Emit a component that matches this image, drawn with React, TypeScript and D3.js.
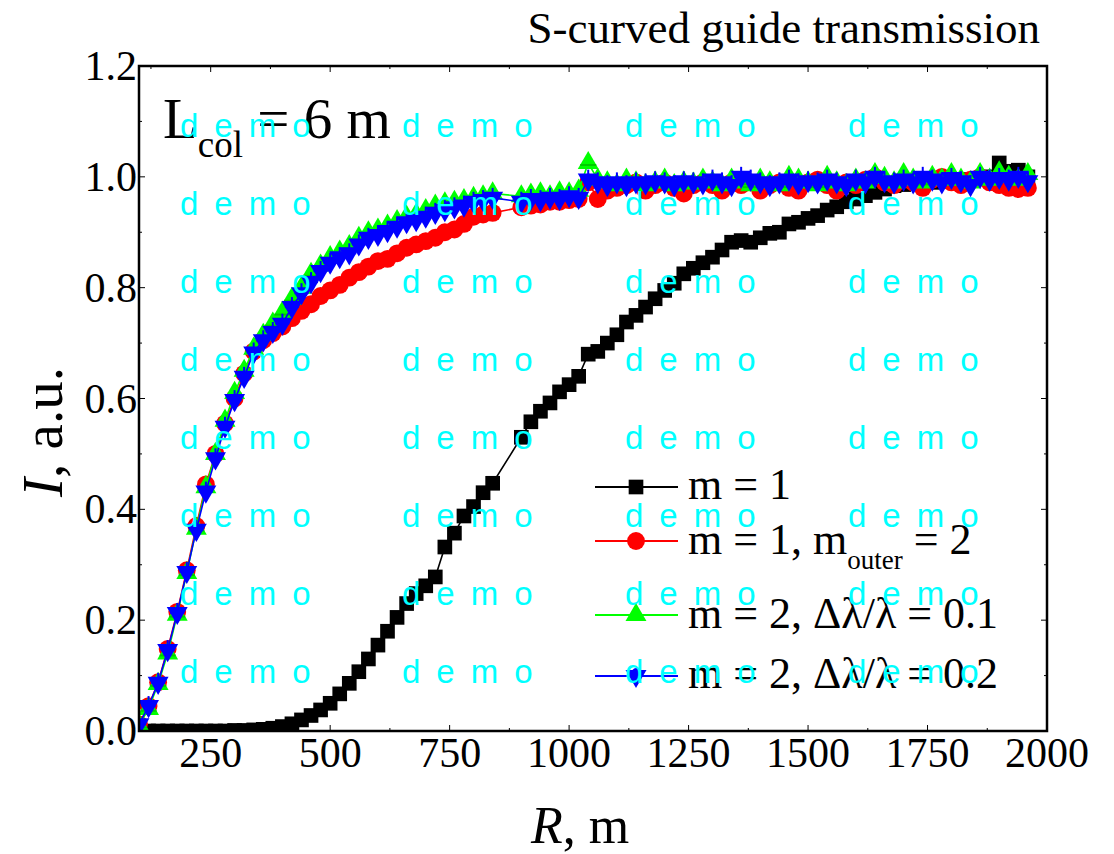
import React from 'react';
import * as d3 from 'd3';

// bend radius R, m (two simulation runs, 860-880 not computed)
const radius = [
  100, 120, 140, 160, 180, 200, 220, 240, 260, 280,
  300, 320, 340, 360, 380, 400, 420, 440, 460, 480,
  500, 520, 540, 560, 580, 600, 620, 640, 660, 680,
  700, 720, 740, 760, 780, 800, 820, 840,
  900, 920, 940, 960, 980,
  1000, 1020, 1040, 1060, 1080, 1100, 1120, 1140, 1160, 1180,
  1200, 1220, 1240, 1260, 1280, 1300, 1320, 1340, 1360, 1380,
  1400, 1420, 1440, 1460, 1480, 1500, 1520, 1540, 1560, 1580,
  1600, 1620, 1640, 1660, 1680, 1700, 1720, 1740, 1760, 1780,
  1800, 1820, 1840, 1860, 1880, 1900, 1920, 1940, 1960,
];

const m1 = [
  0, 0, 0, 0, 0, 0, 0, 0, 0, 0,
  0.001, 0.001, 0.002, 0.003, 0.005, 0.008, 0.013, 0.02, 0.028, 0.038,
  0.05, 0.067, 0.086, 0.107, 0.13, 0.155, 0.18, 0.205, 0.23, 0.248,
  0.262, 0.278, 0.332, 0.357, 0.388, 0.405, 0.43, 0.447,
  0.53, 0.558, 0.577, 0.592, 0.612,
  0.625, 0.64, 0.68, 0.685, 0.7, 0.715, 0.738, 0.75, 0.765, 0.78,
  0.795, 0.808, 0.825, 0.835, 0.845, 0.855, 0.868, 0.882, 0.885, 0.882,
  0.89, 0.898, 0.9, 0.915, 0.918, 0.925, 0.93, 0.94, 0.946, 0.955,
  0.96, 0.966, 0.972, 0.978, 0.984, 0.986, 0.988, 0.99, 0.99, 0.992,
  0.992, 0.993, 0.995, 0.997, 1.0, 1.025, 1.01, 1.012, 1.0,
];

const m1Outer2 = [
  0.012, 0.045, 0.088, 0.148, 0.215, 0.29, 0.37, 0.445, 0.5, 0.555,
  0.6, 0.645, 0.685, 0.705, 0.718, 0.73, 0.745, 0.758, 0.77, 0.785,
  0.795, 0.805, 0.818, 0.828, 0.838, 0.848, 0.852, 0.862, 0.872, 0.878,
  0.884, 0.89, 0.9, 0.905, 0.915, 0.928, 0.932, 0.935,
  0.945, 0.948, 0.95, 0.955, 0.955,
  0.958, 0.96, 0.99, 0.96, 0.975, 0.98, 0.985, 0.99, 0.975, 0.985,
  0.99, 0.98, 0.97, 0.985, 0.99, 0.985, 0.975, 0.99, 0.985, 0.99,
  0.975, 0.985, 0.99, 0.98, 0.975, 0.99, 0.995, 0.985, 0.975, 0.99,
  0.985, 0.995, 1.0, 0.99, 0.985, 0.995, 0.99, 0.98, 0.995, 1.0,
  0.99, 0.985, 0.995, 1.0, 0.99, 0.985, 0.98, 0.978, 0.98,
];

const m2Res01 = [
  0.01, 0.04, 0.085, 0.14, 0.21, 0.285, 0.365, 0.44, 0.5, 0.56,
  0.61, 0.65, 0.69, 0.715, 0.735, 0.755, 0.78, 0.8, 0.825, 0.84,
  0.855, 0.865, 0.875, 0.89, 0.9, 0.905, 0.912, 0.92, 0.928, 0.932,
  0.94, 0.948, 0.952, 0.955, 0.958, 0.962, 0.965, 0.97,
  0.965, 0.968, 0.97, 0.965, 0.972,
  0.97, 0.975, 1.025, 0.995, 0.99, 0.985, 0.995, 0.99, 0.985, 0.99,
  0.995, 0.985, 0.99, 0.988, 0.995, 0.99, 0.985, 0.995, 0.99, 0.985,
  0.995, 0.99, 0.985, 1.0, 0.995, 0.99, 0.985, 1.0, 0.99, 0.985,
  0.995, 0.99, 1.005, 0.998, 0.99, 1.005, 0.995, 0.99, 1.0, 0.995,
  1.005, 0.995, 0.99, 1.005, 0.995, 1.008, 1.0, 0.995, 1.005,
];

const m2Res02 = [
  0.012, 0.045, 0.087, 0.146, 0.213, 0.287, 0.363, 0.432, 0.492, 0.549,
  0.597, 0.639, 0.683, 0.705, 0.72, 0.735, 0.765, 0.79, 0.81, 0.83,
  0.845, 0.855, 0.862, 0.878, 0.89, 0.895, 0.902, 0.91, 0.918, 0.922,
  0.928, 0.935, 0.94, 0.945, 0.948, 0.955, 0.958, 0.962,
  0.955, 0.96, 0.958, 0.962, 0.96,
  0.965, 0.962, 0.995, 0.99, 0.985, 0.99, 0.985, 0.99, 0.988, 0.992,
  0.99, 0.985, 0.992, 0.99, 0.988, 0.995, 0.99, 0.985, 1.0, 0.995,
  0.99, 0.985, 0.99, 0.995, 0.988, 0.992, 0.99, 0.995, 0.99, 0.985,
  0.995, 0.99, 1.0, 0.992, 0.99, 0.995, 0.99, 1.0, 0.995, 0.99,
  0.998, 0.992, 0.985, 1.0, 0.995, 0.998, 0.995, 1.0, 0.992,
];

const xTicks = [250, 500, 750, 1000, 1250, 1500, 1750, 2000];
const xMinor = [125, 375, 625, 875, 1125, 1375, 1625, 1875];
const yTicks = [0, 0.2, 0.4, 0.6, 0.8, 1.0, 1.2];
const yMinor = [0.1, 0.3, 0.5, 0.7, 0.9, 1.1];

const serif = '"Liberation Serif", "Times New Roman", serif';
const L = 139, R = 1047, T = 66, B = 731;

const wmRows = [137, 215, 293, 371, 449, 527, 605, 683];
const wmCols = [180, 402, 625, 848];

export default function App() {
  const x = d3.scaleLinear().domain([100, 2000]).range([L, R]);
  const y = d3.scaleLinear().domain([0, 1.2]).range([B, T]);

  const line = d3
    .line<number>()
    .x((_, i) => x(radius[i]))
    .y((d) => y(d));

  const series = [
    { key: 'm1', values: m1, color: '#000000', path: d3.symbol(d3.symbolSquare, 215)()!, rot: 0 },
    { key: 'm1o', values: m1Outer2, color: '#ff0000', path: d3.symbol(d3.symbolCircle, 250)()!, rot: 0 },
    { key: 'm2a', values: m2Res01, color: '#00ff00', path: d3.symbol(d3.symbolTriangle, 190)()!, rot: 0 },
    { key: 'm2b', values: m2Res02, color: '#0000ff', path: d3.symbol(d3.symbolTriangle, 190)()!, rot: 180 },
  ];

  const legendY = [487, 541, 615, 676];
  const legendBase = [499, 554, 628, 688];
  const lx0 = 595, lx1 = 678, lmx = 636, ltx = 688;

  return (
    <svg width={1114} height={854} style={{ position: 'absolute', left: 0, top: 0, background: '#fff' }}>
      <defs>
        <clipPath id="plot">
          <rect x={L} y={T} width={R - L} height={B - T} />
        </clipPath>
      </defs>
      <rect x={0} y={0} width={1114} height={854} fill="#fff" />

      <g clipPath="url(#plot)">
        {series.map((s) => (
          <g key={s.key}>
            <path d={line(s.values)!} fill="none" stroke={s.color} strokeWidth={1.6} />
            {s.values.map((v, i) => (
              <path
                key={i}
                d={s.path}
                fill={s.color}
                transform={`translate(${x(radius[i])},${y(v)}) rotate(${s.rot})`}
              />
            ))}
            {s.key === 'm2a' &&
              s.values.map((v, i) => (
                <line key={'g' + i} x1={x(radius[i]) - 8} x2={x(radius[i]) + 8} y1={y(v) + 2} y2={y(v) + 2} stroke="#00cc00" strokeWidth={2} />
              ))}
            {s.key === 'm2b' &&
              s.values.map((v, i) => (
                <g key={'b' + i} stroke="#0000ff" strokeWidth={2}>
                  <line x1={x(radius[i])} x2={x(radius[i])} y1={y(v) - 10} y2={y(v) + 10} />
                  <line x1={x(radius[i]) - 7} x2={x(radius[i]) + 7} y1={y(v)} y2={y(v)} />
                </g>
              ))}
          </g>
        ))}
      </g>

      {/* frame and ticks */}
      <rect x={L} y={T} width={R - L} height={B - T} fill="none" stroke="#000" strokeWidth={2.5} />
      <g stroke="#000" strokeWidth={1}>
        {xTicks.map((t) => (
          <g key={'xt' + t}>
            <line x1={x(t)} x2={x(t)} y1={B} y2={B - 6} />
            <line x1={x(t)} x2={x(t)} y1={T} y2={T + 6} />
          </g>
        ))}
        {xMinor.map((t) => (
          <g key={'xm' + t}>
            <line x1={x(t)} x2={x(t)} y1={B} y2={B - 3} />
            <line x1={x(t)} x2={x(t)} y1={T} y2={T + 3} />
          </g>
        ))}
        {yTicks.map((t) => (
          <g key={'yt' + t}>
            <line x1={L} x2={L + 6} y1={y(t)} y2={y(t)} />
            <line x1={R} x2={R - 6} y1={y(t)} y2={y(t)} />
          </g>
        ))}
        {yMinor.map((t) => (
          <g key={'ym' + t}>
            <line x1={L} x2={L + 3} y1={y(t)} y2={y(t)} />
            <line x1={R} x2={R - 3} y1={y(t)} y2={y(t)} />
          </g>
        ))}
      </g>

      <g fontFamily={serif} fontSize={42} fill="#000">
        {xTicks.map((t) => (
          <text key={'xl' + t} x={x(t)} y={767} textAnchor="middle">
            {t}
          </text>
        ))}
        {yTicks.map((t) => (
          <text key={'yl' + t} x={137} y={y(t) + 14} textAnchor="end">
            {t.toFixed(1)}
          </text>
        ))}
      </g>

      <text x={580} y={843} textAnchor="middle" fontFamily={serif} fontSize={52}>
        <tspan fontStyle="italic">R</tspan>, m
      </text>
      <text transform="translate(62,432) rotate(-90)" textAnchor="middle" fontFamily={serif} fontSize={57}>
        <tspan fontStyle="italic">I</tspan>, a.u.
      </text>
      <text x={1040} y={43} textAnchor="end" fontFamily={serif} fontSize={45}>
        S-curved guide transmission
      </text>
      <text x={163} y={138} fontFamily={serif} fontSize={57}>
        L<tspan dy={19} fontSize={37}>col</tspan>
        <tspan dy={-19}> = 6 m</tspan>
      </text>

      {/* legend */}
      <g fontFamily={serif} fontSize={44}>
        {series.map((s, i) => (
          <g key={'lg' + s.key}>
            <line x1={lx0} x2={lx1} y1={legendY[i]} y2={legendY[i]} stroke={s.color} strokeWidth={2} />
            <path d={s.path} fill={s.color} transform={`translate(${lmx},${legendY[i]}) rotate(${s.rot})`} />
            {s.key === 'm2b' && <ellipse cx={lmx} cy={legendY[i] - 1} rx={5} ry={7} fill="#0000ff" />}
          </g>
        ))}
        <text x={ltx} y={legendBase[0]}>m = 1</text>
        <text x={ltx} y={legendBase[1]}>
          m = 1, m<tspan dy={15} fontSize={27}>outer</tspan>
          <tspan dy={-15}> = 2</tspan>
        </text>
        <text x={ltx} y={legendBase[2]}>m = 2, Δλ/λ = 0.1</text>
        <text x={ltx} y={legendBase[3]}>m = 2, Δλ/λ = 0.2</text>
      </g>

      {/* watermark */}
      <g fontFamily='"Liberation Sans", Arial, sans-serif' fontSize={33} fill="#00ffff" letterSpacing={16}>
        {wmRows.map((ry) =>
          wmCols.map((cx) => (
            <text key={ry + '-' + cx} x={cx} y={ry}>
              demo
            </text>
          ))
        )}
      </g>
    </svg>
  );
}
